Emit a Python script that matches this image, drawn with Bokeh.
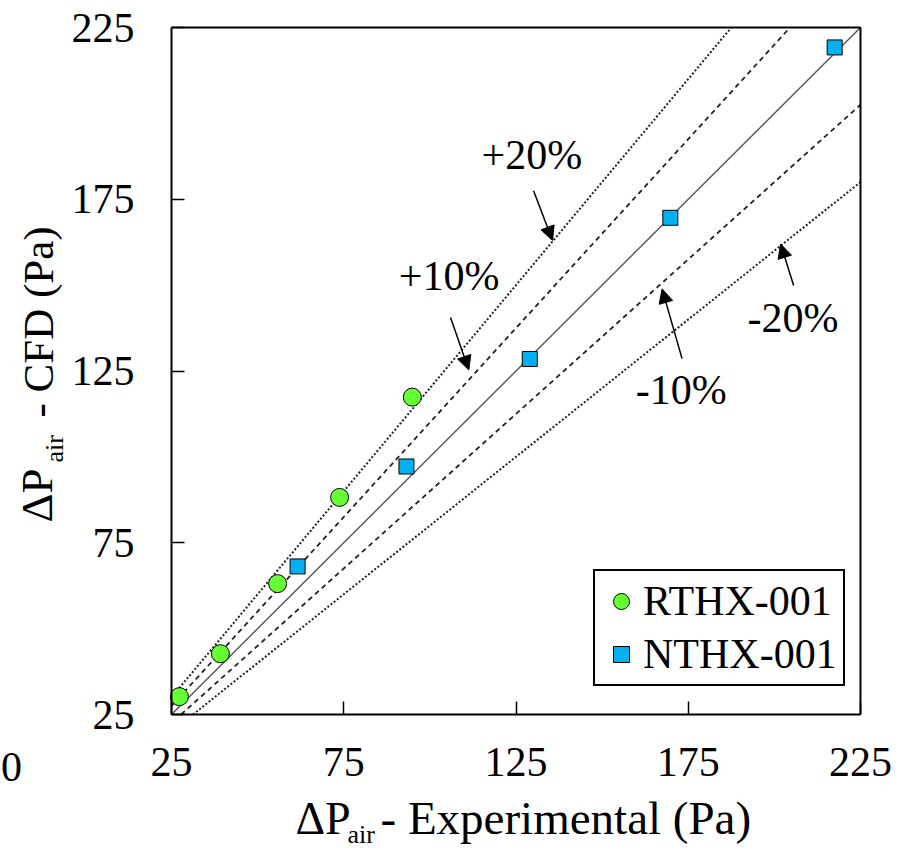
import math
from bokeh.plotting import figure
from bokeh.models import Range1d, FixedTicker, Label, Arrow, NormalHead, LinearAxis
from bokeh.embed import file_html
from bokeh.resources import INLINE

# ---- data ----
rthx_exp = [27.3, 39.2, 55.8, 73.8, 94.9]
rthx_cfd = [30.2, 42.7, 63.1, 88.2, 117.4]
nthx_exp = [61.6, 93.2, 129.0, 169.8, 217.5]
nthx_cfd = [68.1, 97.2, 128.5, 169.6, 219.2]
tick_values = [25, 75, 125, 175, 225]
axis_min, axis_max = 25, 225

solid_ratios = [1.0]
dashed_ratios = [1.1, 0.9]
dotted_ratios = [1.2, 0.8]

band_labels = ["+20%", "+10%", "-10%", "-20%"]
band_label_x = [129.6, 105.6, 173.0, 205.4]
band_label_y = [187.8, 152.6, 119.4, 140.4]
arrow_x0 = [130.1, 106.0, 173.2, 205.6]
arrow_y0 = [177.5, 140.6, 128.6, 149.9]
arrow_x1 = [135.6, 111.3, 167.4, 201.8]
arrow_y1 = [163.0, 125.3, 148.9, 162.0]

series_names = ["RTHX-001", "NTHX-001"]
x_title = ["ΔP", "air", "- Experimental (Pa)"]
y_title = ["ΔP", "air", "- CFD (Pa)"]
stray_label = "0"

FONT = "Liberation Serif"
W, H = 907, 848
# pixel box of the plotting area
BOX_L, BOX_R, BOX_T, BOX_B = 171, 860, 27, 714

sx = (axis_max - axis_min) / (BOX_R - BOX_L)
sy = (axis_max - axis_min) / (BOX_B - BOX_T)
x_start = axis_min - BOX_L * sx
x_end = axis_max + (W - BOX_R) * sx
y_end = axis_max + BOX_T * sy
y_start = axis_min - (H - BOX_B) * sy


def dx(px):
    return x_start + px * sx


def dy(py):
    return y_end - py * sy


p = figure(width=W, height=H, output_backend="svg", toolbar_location=None,
           x_range=Range1d(x_start, x_end), y_range=Range1d(y_start, y_end),
           x_axis_location=None, y_axis_location=None,
           min_border_left=0, min_border_right=0, min_border_top=0, min_border_bottom=0)
p.xgrid.visible = False
p.ygrid.visible = False
p.outline_line_color = None
p.background_fill_color = "white"
p.border_fill_color = "white"


def make_axis(loc, labels=True):
    ax = LinearAxis(fixed_location=loc, bounds=(axis_min, axis_max),
                    ticker=FixedTicker(ticks=tick_values))
    ax.axis_line_color = "black"
    ax.axis_line_width = 2
    ax.minor_tick_line_color = None
    if labels:
        ax.major_tick_in = 13
        ax.major_tick_out = 0
        ax.major_tick_line_color = "black"
        ax.major_tick_line_width = 1.5
        ax.major_label_text_font = FONT
        ax.major_label_text_font_size = "42px"
        ax.major_label_text_color = "black"
    else:
        ax.major_tick_line_color = None
        ax.major_label_text_font_size = "0px"
        ax.major_label_text_alpha = 0
    return ax


xax = make_axis(axis_min)
xax.major_label_standoff = 33
p.add_layout(xax, "below")
yax = make_axis(axis_min)
yax.major_label_standoff = 37
p.add_layout(yax, "left")
p.add_layout(make_axis(axis_max, labels=False), "above")
p.add_layout(make_axis(axis_max, labels=False), "right")


# reference lines y = r * x, limited to the plotting box
def seg(r):
    x0 = max(axis_min, axis_min / r)
    x1 = min(axis_max, axis_max / r)
    return [x0, x1], [r * x0, r * x1]


for r in solid_ratios:
    xs, ys = seg(r)
    p.line(xs, ys, line_color="#555555", line_width=1.4)
for r in dashed_ratios:
    xs, ys = seg(r)
    p.line(xs, ys, line_color="#222222", line_width=1.8, line_dash="5 4")
for r in dotted_ratios:
    xs, ys = seg(r)
    p.line(xs, ys, line_color="#222222", line_width=2, line_dash="2 2")

p.scatter(rthx_exp, rthx_cfd, marker="circle", size=18, fill_color="#66ff33",
          line_color="black", line_width=1, legend_label=series_names[0])
p.scatter(nthx_exp, nthx_cfd, marker="square", size=15, fill_color="#00b0f0",
          line_color="black", line_width=1, legend_label=series_names[1])

lg = p.legend[0]
lg.location = (593, H - 686)
lg.label_text_font = FONT
lg.label_text_font_size = "42px"
lg.label_text_color = "black"
lg.border_line_color = "black"
lg.border_line_alpha = 1.0
lg.border_line_width = 2
lg.background_fill_color = "white"
lg.background_fill_alpha = 1
lg.glyph_width = 40
lg.glyph_height = 44
lg.label_height = 44
lg.label_standoff = 2
lg.padding = 6
lg.spacing = 5
lg.margin = 0

for t, x, y in zip(band_labels, band_label_x, band_label_y):
    p.add_layout(Label(x=x, y=y, text=t, text_font=FONT, text_font_size="42px",
                       text_align="center", text_baseline="middle", text_color="black"))
for x0, y0, x1, y1 in zip(arrow_x0, arrow_y0, arrow_x1, arrow_y1):
    p.add_layout(Arrow(x_start=x0, y_start=y0, x_end=x1, y_end=y1, line_width=1.5,
                       line_color="black",
                       end=NormalHead(size=14, fill_color="black", line_color="black", line_width=1)))


def lab(px, py, t, size, angle=0.0, align="left"):
    p.add_layout(Label(x=dx(px), y=dy(py), text=t, text_font=FONT, text_font_size=size,
                       angle=angle, text_align=align, text_baseline="middle",
                       text_color="black"))


# x title
lab(295, 817.5, x_title[0], "46px")
lab(347, 834.2, x_title[1], "26px")
lab(380, 817.5, x_title[2], "47px")
# y title
lab(36.8, 522, y_title[0], "45px", math.pi / 2)
lab(54.2, 462, y_title[1], "26px", math.pi / 2)
lab(37.5, 417, y_title[2], "43px", math.pi / 2)
# stray "0" at lower left
lab(11, 766.5, stray_label, "42px", align="center")

open("out.html", "w").write(file_html(p, INLINE))
